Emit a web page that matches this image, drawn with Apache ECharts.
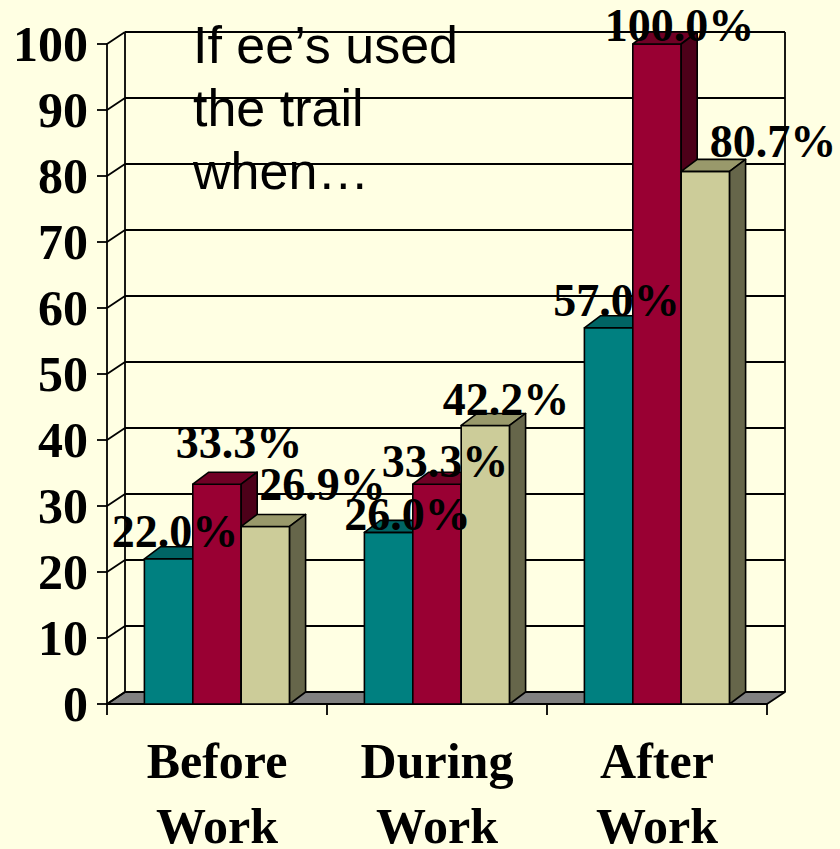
<!DOCTYPE html>
<html>
<head>
<meta charset="utf-8">
<script src="https://cdn.jsdelivr.net/npm/echarts@6/dist/echarts.min.js"></script>
<style>
  html, body { margin: 0; padding: 0; background: #ffffe3; overflow: hidden; }
  #chart { width: 840px; height: 849px; }
</style>
</head>
<body>
<div id="chart"></div>
<script>
// Trail use by time of day (percent)
const categories = ['Before\nWork', 'During\nWork', 'After\nWork'];
const tealValues = [22.0, 26.0, 57.0];
const redValues = [33.3, 33.3, 100.0];
const beigeValues = [26.9, 42.2, 80.7];
const yTickValues = [0, 10, 20, 30, 40, 50, 60, 70, 80, 90, 100];

// Extrusion of the bars and the wall depth (px)
const BAR_DX = 16, BAR_DY = 12;
const WALL_DX = 18, WALL_DY = 12;

// Face colours per series: front, top, side
const palettes = [
  { front: '#008080', top: '#006464', side: '#004c4c' },
  { front: '#990033', top: '#700025', side: '#4d0019' },
  { front: '#cccc99', top: '#99996b', side: '#66664a' }
];

// Per-label nudges [dx, dy] so the value labels sit as laid out
const labelNudge = [
  [[-1.5, 0], [11, 10], [0, 0]],
  [[14, -14], [0, 5], [14.5, 9]],
  [[49, -14.5], [12.5, 1.5], [59.5, -2]]
];

const LINE = '#000';

function barRenderer(seriesPos) {
  return function (params, api) {
    const cat = api.value(0);
    const val = api.value(1);
    const top = api.coord([cat, val]);
    const base = api.coord([cat, 0]);
    const catW = api.size([1, 0])[0];
    const barW = catW * 0.22;
    const x0 = top[0] - 1.5 * barW + seriesPos * barW;
    const y1 = top[1], y0 = base[1];
    const pal = palettes[seriesPos];
    const stroke = { stroke: LINE, lineWidth: 1.6, lineJoin: 'round' };
    const nudge = labelNudge[seriesPos][params.dataIndex];
    return {
      type: 'group',
      children: [
        {
          type: 'rect',
          shape: { x: x0, y: y1, width: barW, height: y0 - y1 },
          style: Object.assign({ fill: pal.front }, stroke)
        },
        {
          type: 'polygon',
          shape: { points: [[x0, y1], [x0 + BAR_DX, y1 - BAR_DY], [x0 + barW + BAR_DX, y1 - BAR_DY], [x0 + barW, y1]] },
          style: Object.assign({ fill: pal.top }, stroke)
        },
        {
          type: 'polygon',
          shape: { points: [[x0 + barW, y1], [x0 + barW + BAR_DX, y1 - BAR_DY], [x0 + barW + BAR_DX, y0 - BAR_DY], [x0 + barW, y0]] },
          style: Object.assign({ fill: pal.side }, stroke)
        },
        {
          type: 'text',
          z2: 100,
          x: x0 + barW / 2 + BAR_DX / 2 + nudge[0],
          y: y1 - BAR_DY + nudge[1] - 15.5,
          style: {
            text: val.toFixed(1) + '%',
            fill: '#000',
            font: 'bold 46px "Liberation Serif", "Times New Roman", serif',
            align: 'center',
            verticalAlign: 'middle'
          }
        }
      ]
    };
  };
}

function wallRenderer(params, api) {
  const cs = params.coordSys;
  const v = api.value(1);
  const y = api.coord([0, v])[1];
  const xl = cs.x;
  const children = [];
  if (params.dataIndex === 0) {
    const xr = cs.x + cs.width;
    children.push({
      type: 'polygon',
      z2: 0,
      shape: { points: [[xl, y], [xr, y], [xr + WALL_DX, y - WALL_DY], [xl + WALL_DX, y - WALL_DY]] },
      style: { fill: '#808080', stroke: LINE, lineWidth: 1.8, lineJoin: 'round' }
    });
  }
  children.push({
    type: 'line',
    z2: 1,
    shape: { x1: xl, y1: y, x2: xl + WALL_DX, y2: y - WALL_DY },
    style: { stroke: LINE, lineWidth: 1.8 }
  });
  return { type: 'group', children: children };
}

const serifBold = '"Liberation Serif", "Times New Roman", serif';

const chart = echarts.init(document.getElementById('chart'), null, { renderer: 'svg' });

chart.setOption({
  backgroundColor: '#ffffe3',
  animation: false,
  title: {
    text: 'If ee’s used\nthe trail\nwhen…',
    left: 193,
    top: 13,
    padding: 0,
    textStyle: {
      fontFamily: '"Liberation Sans", Arial, sans-serif',
      fontSize: 52,
      fontWeight: 'normal',
      lineHeight: 63,
      color: '#000'
    }
  },
  grid: [
    { left: 107, top: 44, width: 660, height: 660, outerBoundsMode: 'none', containLabel: false },
    { left: 107 + WALL_DX, top: 44 - WALL_DY, width: 660, height: 660, outerBoundsMode: 'none', containLabel: false }
  ],
  xAxis: [
    {
      type: 'category',
      gridIndex: 0,
      data: categories,
      boundaryGap: true,
      axisLine: { show: true, lineStyle: { color: LINE, width: 1.8 } },
      axisTick: { show: true, interval: 0, length: 11, lineStyle: { color: LINE, width: 1.8 } },
      axisLabel: {
        interval: 0,
        margin: 24,
        color: '#000',
        fontFamily: serifBold,
        fontWeight: 'bold',
        fontSize: 50,
        lineHeight: 65
      },
      splitLine: { show: false }
    },
    {
      type: 'value',
      gridIndex: 1,
      min: 0,
      max: 1,
      interval: 1,
      axisLine: { show: false },
      axisTick: { show: false },
      axisLabel: { show: false },
      splitLine: { show: true, lineStyle: { color: LINE, width: 1.8 } }
    }
  ],
  yAxis: [
    {
      type: 'value',
      gridIndex: 0,
      min: 0,
      max: 100,
      interval: 10,
      axisLine: { show: true, lineStyle: { color: LINE, width: 1.8 } },
      axisTick: { show: true, length: 10, lineStyle: { color: LINE, width: 1.8 } },
      axisLabel: {
        margin: 19,
        color: '#000',
        fontFamily: serifBold,
        fontWeight: 'bold',
        fontSize: 50
      },
      splitLine: { show: false }
    },
    {
      type: 'value',
      gridIndex: 1,
      min: 0,
      max: 100,
      interval: 10,
      axisLine: { show: false },
      axisTick: { show: false },
      axisLabel: { show: false },
      splitLine: { show: true, lineStyle: { color: LINE, width: 1.8 } }
    }
  ],
  series: [
    {
      type: 'custom',
      name: 'wall',
      xAxisIndex: 0,
      yAxisIndex: 0,
      silent: true,
      renderItem: wallRenderer,
      encode: { x: 0, y: 1 },
      data: yTickValues.map(v => [0, v])
    },
    {
      type: 'custom',
      name: 'teal',
      xAxisIndex: 0,
      yAxisIndex: 0,
      renderItem: barRenderer(0),
      encode: { x: 0, y: 1 },
      data: tealValues.map((v, i) => [i, v])
    },
    {
      type: 'custom',
      name: 'red',
      xAxisIndex: 0,
      yAxisIndex: 0,
      renderItem: barRenderer(1),
      encode: { x: 0, y: 1 },
      data: redValues.map((v, i) => [i, v])
    },
    {
      type: 'custom',
      name: 'beige',
      xAxisIndex: 0,
      yAxisIndex: 0,
      renderItem: barRenderer(2),
      encode: { x: 0, y: 1 },
      data: beigeValues.map((v, i) => [i, v])
    }
  ]
});
</script>
</body>
</html>
